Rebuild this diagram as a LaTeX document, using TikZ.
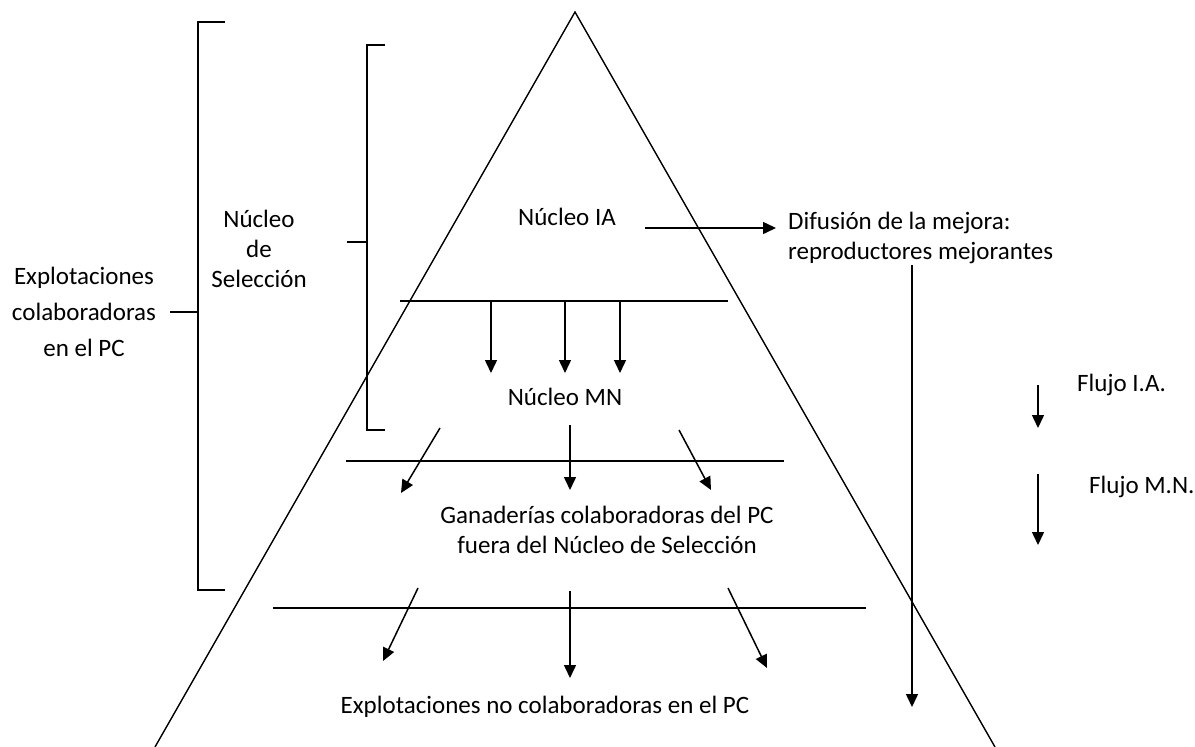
\documentclass[tikz,border=0pt]{standalone}
\usepackage{fontspec}
\setmainfont{Carlito}
\usetikzlibrary{arrows.meta}

\begin{document}
\begin{tikzpicture}[x=1pt,y=-1pt]
        \tikzstyle{every node}=[font=\fontsize{25}{30}\selectfont,inner sep=0pt,align=center]
        \tikzstyle{flow}=[-{Triangle[length=13pt,width=12pt]},line width=1.5pt]
        \tikzstyle{level}=[line width=2pt]
        \tikzstyle{bracket}=[line width=1.3pt]
        \useasboundingbox (0,0) rectangle (1195,747);
        % piramide
        \coordinate (top) at (575,12);
        \coordinate (baseL) at (155,747);
        \coordinate (baseR) at (995,747);
        \draw[line width=1.4pt] (baseL) -- (top) -- (baseR);
        % textos
        \node (ia) at (567,217) {Núcleo IA};
        \node (mn) at (565,397) {Núcleo MN};
        \node (gan) at (607,530) {Ganaderías colaboradoras del PC\\fuera del Núcleo de Selección};
        \node (noc) at (545,707) {Explotaciones no colaboradoras en el PC};
        \node[anchor=west,align=left] (dif) at (788,238) {Difusión de la mejora:\\reproductores mejorantes};
        \node[font=\fontsize{25}{36}\selectfont] (expl) at (84,312) {Explotaciones\\colaboradoras\\en el PC};
        \node (nsel) at (259,249) {Núcleo\\de\\Selección};
        \node[anchor=west] (fia) at (1077,385) {Flujo I.A.};
        \node[anchor=west] (fmn) at (1089,487) {Flujo M.N.};
        % niveles
        \coordinate (l1a) at (400,301); \coordinate (l1b) at (728,301);
        \coordinate (l2a) at (346,461); \coordinate (l2b) at (784,461);
        \coordinate (l3a) at (273,608); \coordinate (l3b) at (866,608);
        \draw[level] (l1a) -- (l1b);
        \draw[level] (l2a) -- (l2b);
        \draw[level] (l3a) -- (l3b);
        % llaves
        \draw[bracket] (225,22) -- (198,22) -- (198,590) -- (225,590);
        \draw[bracket] (170,312) -- (198,312);
        \draw[bracket] (385,45) -- (367,45) -- (367,430) -- (385,430);
        \draw[bracket] (347,242) -- (367,242);
        % flujos
        \coordinate (d1) at (645,228); \coordinate (d2) at (776,228);
        \draw[flow] (d1) -- (d2);
        \coordinate (r1) at (912,265); \coordinate (r2) at (912,707);
        \draw[flow] (r1) -- (r2);
        \foreach \x in {491,565,620}
          \draw[flow] (\x,0 |- l1a) -- (\x,373);
        \draw[flow] (440,428) -- (401,493);
        \draw[flow] (570,425) -- (570,490);
        \draw[flow] (679,430) -- (711,490);
        \draw[flow] (418,588) -- (383,661);
        \draw[flow] (570,591) -- (570,678);
        \draw[flow] (728,588) -- (767,668);
        % leyenda
        \coordinate (fa1) at (1038,385); \coordinate (fa2) at (1038,428);
        \coordinate (fm1) at (1038,474); \coordinate (fm2) at (1038,545);
        \draw[flow] (fa1) -- (fa2);
        \draw[flow] (fm1) -- (fm2);
\end{tikzpicture}
\end{document}
